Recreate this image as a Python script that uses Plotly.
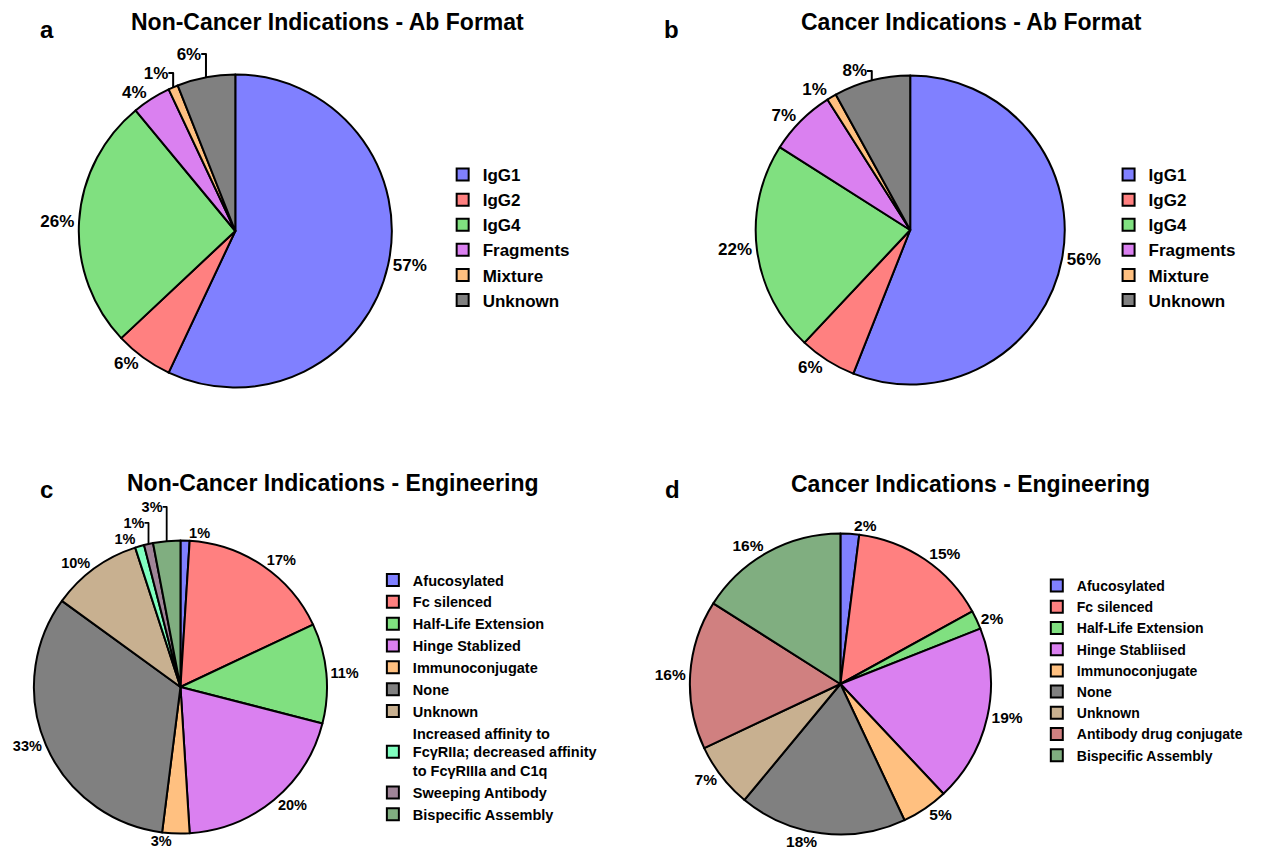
import plotly.graph_objects as go

# ---------------- data ----------------
fmt_labels = ["IgG1", "IgG2", "IgG4", "Fragments", "Mixture", "Unknown"]
noncancer_fmt = [57, 6, 26, 4, 1, 6]
cancer_fmt = [56, 6, 22, 7, 1, 8]
fmt_colors = ["#8080FF", "#FF8080", "#80E080", "#DA80F0", "#FFC080", "#808080"]

eng_nc_labels = ["Afucosylated", "Fc silenced", "Half-Life Extension", "Hinge Stablized",
                 "Immunoconjugate", "None", "Unknown",
                 "Increased affinity to<br>FcγRIIa; decreased affinity<br>to FcγRIIIa and C1q",
                 "Sweeping Antibody", "Bispecific Assembly"]
noncancer_eng = [1, 17, 11, 20, 3, 33, 10, 1, 1, 3]
eng_nc_colors = ["#8080FF", "#FF8080", "#80E080", "#DA80F0", "#FFC080", "#808080",
                 "#C8B090", "#80FFC0", "#A08498", "#80AE80"]

eng_c_labels = ["Afucosylated", "Fc silenced", "Half-Life Extension", "Hinge Stabliised",
                "Immunoconjugate", "None", "Unknown", "Antibody drug conjugate",
                "Bispecific Assembly"]
cancer_eng = [2, 15, 2, 19, 5, 18, 7, 16, 16]
eng_c_colors = ["#8080FF", "#FF8080", "#80E080", "#DA80F0", "#FFC080", "#808080",
                "#C8B090", "#D08080", "#80AE80"]

titles = ["Non-Cancer Indications - Ab Format", "Cancer Indications - Ab Format",
          "Non-Cancer Indications - Engineering", "Cancer Indications - Engineering"]
panel_letters = ["a", "b", "c", "d"]

# ---------------- layout helpers ----------------
W, H = 1287, 856
OFF = 8  # page body margin
FONT = "Liberation Sans, Arial, sans-serif"


def px(x):
    return (x - OFF) / W


def py(y):
    return 1 - (y - OFF) / H


def dom(cx, cy, r):
    return dict(x=[px(cx - r), px(cx + r)], y=[py(cy + r), py(cy - r)])


fig = go.Figure()

pies = [
    (fmt_labels, noncancer_fmt, fmt_colors, dom(232, 231, 157), "legend", 17),
    (fmt_labels, cancer_fmt, fmt_colors, dom(909, 230, 155), "legend2", 17),
    (eng_nc_labels, noncancer_eng, eng_nc_colors, dom(177, 687, 147), "legend3", 14.5),
    (eng_c_labels, cancer_eng, eng_c_colors, dom(839, 684, 151), "legend4", 15.5),
]

for i, (labels, vals, cols, d, lg, fs) in enumerate(pies):
    # zero-width suffix keeps each pie's legend separate while showing the same text
    uniq = [lab + "\u200b" * i for lab in labels]
    fig.add_trace(go.Pie(
        labels=uniq, values=vals, sort=False, direction="clockwise", rotation=0,
        marker=dict(colors=cols, line=dict(color="black", width=2)),
        textinfo="percent", texttemplate="%{percent:.0%}", textposition="outside",
        outsidetextfont=dict(family=FONT, size=fs, color="black", weight="bold"),
        domain=d, legend=lg, showlegend=True, hoverinfo="label+percent",
    ))

leg_common = dict(xanchor="left", yanchor="top", bgcolor="rgba(0,0,0,0)",
                  traceorder="normal")
fig.update_layout(
    width=W, height=H, margin=dict(l=0, r=0, t=0, b=0),
    paper_bgcolor="white", plot_bgcolor="white",
    font=dict(family=FONT, color="black"),
    legend=dict(x=px(440), y=py(157), font=dict(size=17, family=FONT, weight="bold"), **leg_common),
    legend2=dict(x=px(1108), y=py(157), font=dict(size=17, family=FONT, weight="bold"), **leg_common),
    legend3=dict(x=px(370), y=py(564), font=dict(size=14.5, family=FONT, weight="bold"), **leg_common),
    legend4=dict(x=px(1036), y=py(570), font=dict(size=14, family=FONT, weight="bold"), **leg_common),
)

title_pos = [(324, 22), (970, 22), (329, 483), (969, 484)]
letter_pos = [(43, 30), (670, 30), (43, 489), (671, 489)]
for t, (x, y) in zip(titles, title_pos):
    fig.add_annotation(text=t, x=px(x), y=py(y), xref="paper", yref="paper",
                       showarrow=False, xanchor="center", yanchor="middle",
                       font=dict(family=FONT, size=23, color="black", weight="bold"))
for t, (x, y) in zip(panel_letters, letter_pos):
    fig.add_annotation(text=t, x=px(x), y=py(y), xref="paper", yref="paper",
                       showarrow=False, xanchor="center", yanchor="middle",
                       font=dict(family=FONT, size=24, color="black", weight="bold"))

fig.write_html("out.html")
